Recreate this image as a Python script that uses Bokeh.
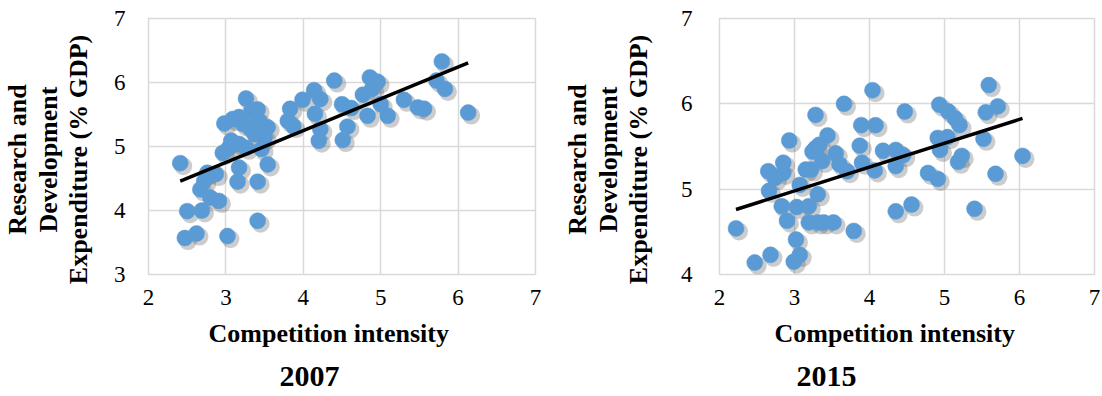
import numpy as np
from bokeh.plotting import figure
from bokeh.models import Range1d, FixedTicker, Title
from bokeh.layouts import row
from bokeh.embed import file_html
from bokeh.resources import INLINE

# ---------------- data ----------------
x_2007 = [2.41, 2.47, 2.62, 2.50, 2.69, 2.67, 2.76, 2.91, 2.80, 3.02, 3.41, 3.41, 3.15, 3.17,
          3.54, 2.96, 3.07, 2.98, 3.09, 3.17, 3.26, 3.33, 3.41, 3.30, 3.54, 3.50, 3.46, 3.26,
          3.17, 3.37, 3.83, 3.80, 3.87, 3.99, 4.14, 4.22, 4.15, 4.22, 4.20, 4.40, 4.50, 4.62,
          4.57, 4.51, 4.77, 4.86, 4.96, 4.89, 4.83, 5.00, 5.09, 5.30, 5.48, 5.56, 5.72, 5.79,
          5.83, 6.13, 3.04, 3.22, 3.43, 2.87, 2.72]
y_2007 = [4.74, 3.57, 3.64, 3.99, 4.00, 4.33, 4.59, 4.15, 4.20, 3.60, 3.84, 4.45, 4.45, 4.67,
          4.72, 4.90, 5.09, 5.36, 5.43, 5.46, 5.75, 5.56, 5.58, 5.30, 5.30, 5.14, 4.96, 4.98,
          5.04, 5.19, 5.59, 5.40, 5.32, 5.73, 5.88, 5.74, 5.51, 5.27, 5.09, 6.03, 5.66, 5.60,
          5.31, 5.10, 5.81, 6.08, 6.01, 5.90, 5.48, 5.66, 5.48, 5.73, 5.61, 5.59, 6.03, 6.33,
          5.90, 5.53, 4.98, 5.35, 5.40, 4.57, 4.46]

x_2015 = [2.22, 2.47, 2.68, 2.99, 3.07, 3.02, 2.90, 2.83, 3.03, 3.19, 3.19, 3.31, 3.39, 3.52,
          3.79, 3.31, 3.07, 2.66, 2.65, 2.74, 2.85, 2.85, 2.93, 3.22, 3.24, 3.28, 3.33, 3.28,
          3.44, 3.37, 3.55, 3.60, 3.70, 3.66, 3.89, 3.87, 3.90, 4.04, 4.08, 4.07, 4.18, 4.35,
          4.45, 4.35, 4.47, 4.35, 4.56, 4.78, 4.91, 4.91, 5.04, 4.94, 4.93, 5.05, 5.14, 5.20,
          5.23, 5.18, 5.40, 5.52, 5.55, 5.59, 5.71, 5.68, 6.04, 3.15]
y_2015 = [4.54, 4.14, 4.23, 4.15, 4.23, 4.41, 4.63, 4.80, 4.79, 4.80, 4.61, 4.61, 4.61, 4.61,
          4.51, 4.94, 5.05, 4.98, 5.21, 5.13, 5.31, 5.19, 5.57, 5.23, 5.44, 5.48, 5.52, 5.87,
          5.63, 5.33, 5.42, 5.29, 5.21, 6.00, 5.75, 5.51, 5.31, 6.16, 5.75, 5.22, 5.45, 5.46,
          5.40, 5.27, 5.91, 4.74, 4.82, 5.19, 5.12, 5.60, 5.61, 5.46, 5.99, 5.91, 5.83, 5.75,
          5.39, 5.32, 4.77, 5.59, 5.90, 6.22, 5.97, 5.18, 5.39, 5.23]

x_ticks = [2, 3, 4, 5, 6, 7]
y_ticks_2007 = [3, 4, 5, 6, 7]
y_ticks_2015 = [4, 5, 6, 7]
x_title = "Competition intensity"
y_title_lines = ["Research and", "Development", "Expenditure (% GDP)"]

FONT = "Liberation Serif"
BLUE = "#5B9BD5"
GRID = "#d9d9d9"
PAD = "\u00a0" * 4  # nudges the centred y title a little downwards


def make_panel(xs, ys, yticks, year, left_border, frame_w, right_border,
               tick_standoff, label_standoff, xtitle_offset, year_offset):
    frame_h = 256
    top_border = 18
    height = 396
    x0, x1 = x_ticks[0], x_ticks[-1]
    y0, y1 = yticks[0], yticks[-1]
    ppx = frame_w / (x1 - x0)
    ppy = frame_h / (y1 - y0)

    p = figure(frame_width=frame_w, frame_height=frame_h,
               min_border_left=left_border, min_border_right=right_border,
               min_border_top=top_border, min_border_bottom=height - frame_h - top_border,
               x_range=Range1d(x0, x1), y_range=Range1d(y0, y1),
               output_backend="svg", toolbar_location=None)
    p.background_fill_color = "white"
    p.border_fill_color = "white"
    p.outline_line_color = GRID
    p.outline_line_width = 1.5

    for ax in (p.xaxis[0], p.yaxis[0]):
        ax.axis_line_color = None
        ax.major_tick_line_color = None
        ax.minor_tick_line_color = None
        ax.major_label_text_font = FONT
        ax.major_label_text_font_size = "23px"
        ax.major_label_text_color = "black"
    p.xaxis[0].ticker = FixedTicker(ticks=x_ticks)
    p.yaxis[0].ticker = FixedTicker(ticks=yticks)
    p.xaxis[0].major_label_standoff = 9
    p.yaxis[0].major_label_standoff = tick_standoff

    yax = p.yaxis[0]
    yax.axis_label = "\n".join(line + PAD for line in y_title_lines)
    yax.axis_label_text_font = FONT
    yax.axis_label_text_font_size = "26px"
    yax.axis_label_text_font_style = "bold"
    yax.axis_label_text_color = "black"
    yax.axis_label_text_line_height = 1.05
    yax.axis_label_standoff = label_standoff

    p.xgrid[0].ticker = FixedTicker(ticks=x_ticks)
    p.ygrid[0].ticker = FixedTicker(ticks=yticks)
    p.grid.grid_line_color = GRID
    p.grid.grid_line_width = 1.5

    # soft shadows under the dots
    dx = 3 / ppx
    dy = -3 / ppy
    p.scatter([v + dx for v in xs], [v + dy for v in ys], size=18,
              fill_color="#555555", fill_alpha=0.3, line_color=None)
    p.scatter(xs, ys, size=16, fill_color=BLUE, line_color=BLUE, line_width=0.5)

    # least-squares linear trend line
    k, b = np.polyfit(xs, ys, 1)
    tx = [min(xs), max(xs)]
    p.line(tx, [k * t + b for t in tx], line_color="black", line_width=3.5)

    p.add_layout(Title(text=x_title, align="left", offset=xtitle_offset,
                       text_font=FONT, text_font_size="26px", text_font_style="bold",
                       text_color="black", standoff=18), "below")
    p.add_layout(Title(text=year, align="left", offset=year_offset,
                       text_font=FONT, text_font_size="30px", text_font_style="bold",
                       text_color="black", standoff=16), "below")
    return p


p1 = make_panel(x_2007, y_2007, y_ticks_2007, "2007", 148, 387, 25,
                tick_standoff=17, label_standoff=18, xtitle_offset=60, year_offset=131)
p2 = make_panel(x_2015, y_2015, y_ticks_2015, "2015", 155, 375, 7,
                tick_standoff=21, label_standoff=25, xtitle_offset=55, year_offset=77)

layout = row(p1, p2)
open("out.html", "w").write(file_html(layout, INLINE))
